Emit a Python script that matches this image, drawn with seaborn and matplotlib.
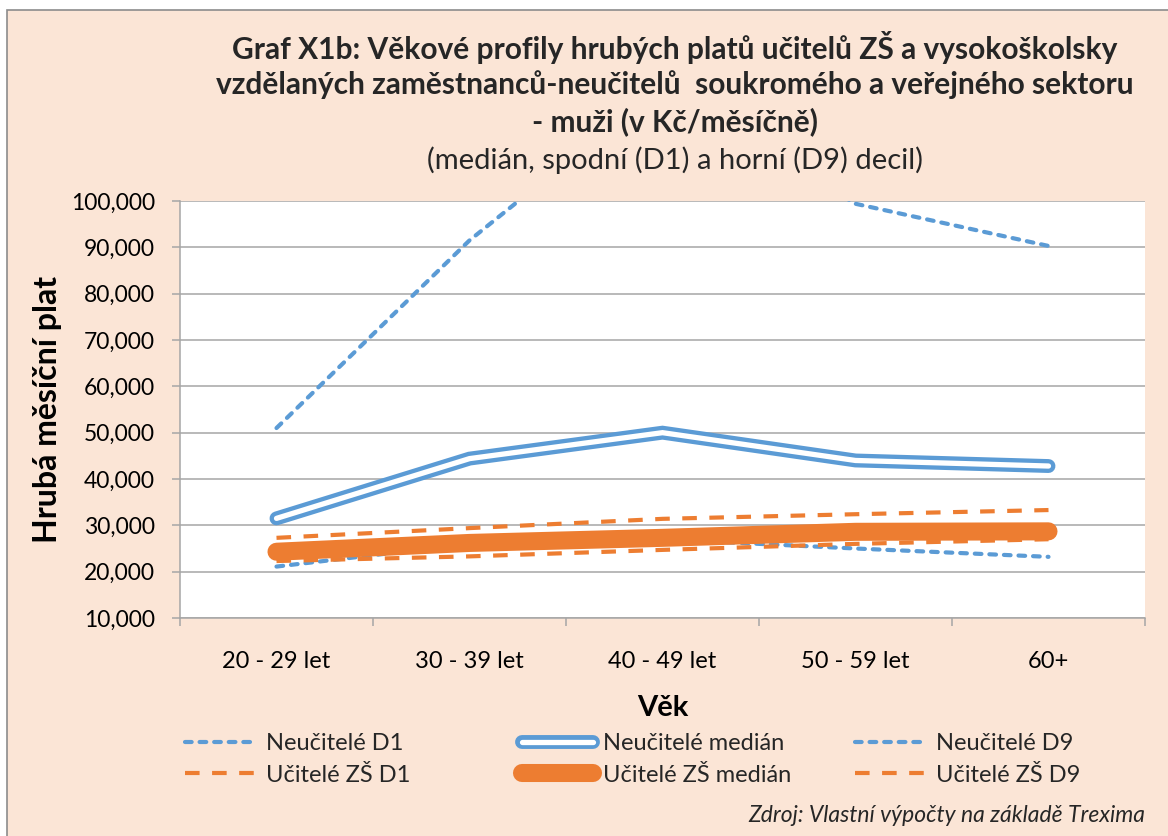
import matplotlib
matplotlib.use("Agg")
import matplotlib.pyplot as plt
import seaborn as sns
from matplotlib.lines import Line2D
from matplotlib.patches import Rectangle
from matplotlib import ticker as plticker

# -------------------------------------------------------------------
# DATA (Kč / month)
# -------------------------------------------------------------------
ages = ["20 - 29 let", "30 - 39 let", "40 - 49 let", "50 - 59 let", "60+"]

neucitele_d1 = [21100, 26000, 27000, 25000, 23200]
neucitele_median = [31500, 44400, 50000, 44000, 42800]
neucitele_d9 = [51000, 91500, 125000, 99400, 90300]

ucitele_d1 = [22300, 23300, 24700, 26000, 27000]
ucitele_median = [24300, 26200, 27300, 28600, 28700]
ucitele_d9 = [27300, 29400, 31400, 32400, 33300]

y_ticks = list(range(10000, 100001, 10000))

legend_labels = [
    "Neučitelé D1", "Neučitelé medián", "Neučitelé D9",
    "Učitelé ZŠ D1", "Učitelé ZŠ medián", "Učitelé ZŠ D9",
]

title_lines = [
    "Graf X1b: Věkové profily hrubých platů učitelů ZŠ a vysokoškolsky",
    "vzdělaných zaměstnanců-neučitelů  soukromého a veřejného sektoru",
    "- muži (v Kč/měsíčně)",
]
subtitle = "(medián, spodní (D1) a horní (D9) decil)"
source = "Zdroj: Vlastní výpočty na základě Trexima"

# -------------------------------------------------------------------
# STYLE
# -------------------------------------------------------------------
BLUE = "#5B9BD5"
ORANGE = "#ED7D31"
PEACH = "#FBE5D6"
GRID = "#A6A6A6"

sns.set_theme(style="white")
plt.rcParams["font.family"] = ["Lato", "DejaVu Sans"]

blue_dash = dict(color=BLUE, lw=3.0, linestyle=(0, (1.6, 1.9)),
                 dash_capstyle="round")
orange_dash = dict(color=ORANGE, lw=3.0, linestyle=(0, (3.5, 3.0)))
blue_outer = dict(color=BLUE, lw=10, solid_capstyle="round",
                  solid_joinstyle="miter")
blue_inner = dict(color="white", lw=3.8, solid_capstyle="round",
                  solid_joinstyle="miter")
orange_thick = dict(color=ORANGE, lw=13, solid_capstyle="round")

fig = plt.figure(figsize=(11.68, 8.36), dpi=100, facecolor="white")

# peach chart area with gray frame (frame runs off right/bottom edge)
fig.patches.append(Rectangle((7 / 1168, -0.05), 1.2, 1 - 10 / 836 + 0.05,
                             transform=fig.transFigure, facecolor=PEACH,
                             edgecolor="#8C8C8C", lw=1.2, zorder=-1))

ax = fig.add_axes([180 / 1168, 1 - 618 / 836, 965 / 1168, 417 / 836])
ax.set_facecolor("white")

# -------------------------------------------------------------------
# LINES
# -------------------------------------------------------------------
sns.lineplot(x=ages, y=neucitele_d1, ax=ax, sort=False, zorder=3, **blue_dash)
sns.lineplot(x=ages, y=neucitele_median, ax=ax, sort=False, zorder=3,
             **blue_outer)
sns.lineplot(x=ages, y=neucitele_median, ax=ax, sort=False, zorder=3,
             **blue_inner)
sns.lineplot(x=ages, y=neucitele_d9, ax=ax, sort=False, zorder=3, **blue_dash)
sns.lineplot(x=ages, y=ucitele_d1, ax=ax, sort=False, zorder=4, **orange_dash)
sns.lineplot(x=ages, y=ucitele_median, ax=ax, sort=False, zorder=4,
             **orange_thick)
sns.lineplot(x=ages, y=ucitele_d9, ax=ax, sort=False, zorder=4, **orange_dash)

# -------------------------------------------------------------------
# AXES
# -------------------------------------------------------------------
ax.set_xlim(-0.5, len(ages) - 0.5)
ax.set_ylim(min(y_ticks), max(y_ticks))
ax.yaxis.set_major_locator(plticker.FixedLocator(y_ticks))
ax.yaxis.set_major_formatter(plticker.StrMethodFormatter("{x:,.0f}"))
ax.grid(axis="y", color=GRID, lw=1.1)
ax.set_axisbelow(True)

for side in ("top", "right"):
    ax.spines[side].set_visible(False)
for side in ("left", "bottom"):
    ax.spines[side].set_color(GRID)
    ax.spines[side].set_linewidth(1.1)

ax.set_xticks(range(len(ages)))
ax.set_xticklabels(ages)
ax.set_xticks([i - 0.5 for i in range(len(ages) + 1)], minor=True)
ax.tick_params(axis="x", which="major", length=0, pad=24, labelsize=17,
               labelcolor="black")
ax.tick_params(axis="x", which="minor", length=6, width=1.1, color=GRID,
               direction="out", bottom=True)
ax.tick_params(axis="y", length=6, width=1.1, color=GRID, direction="out",
               left=True, pad=12, labelsize=16.5, labelcolor="black")

ax.set_xlabel("Věk", fontsize=21, fontweight="bold", color="black")
ax.xaxis.set_label_coords(0.5, -0.185)
ax.set_ylabel("Hrubá měsíční plat", fontsize=23, fontweight="bold",
              color="black")
ax.yaxis.set_label_coords(-0.122, 0.5)

# -------------------------------------------------------------------
# TITLES
# -------------------------------------------------------------------
for line, y_px in zip(title_lines, (48, 85, 122)):
    fig.text(675 / 1168, 1 - y_px / 836, line, ha="center", va="center",
             fontsize=21.5, fontweight="bold")
fig.text(675 / 1168, 1 - 160 / 836, subtitle, ha="center", va="center",
         fontsize=21)
fig.text(1145 / 1168, 1 - 815 / 836, source, ha="right", va="center",
         fontsize=16.5, style="italic")

# -------------------------------------------------------------------
# LEGEND (three columns, placed one by one)
# -------------------------------------------------------------------
h_blue_dash = Line2D([], [], **blue_dash)
h_orange_dash = Line2D([], [], **orange_dash)
h_blue_med = (Line2D([], [], **blue_outer), Line2D([], [], **blue_inner))
h_orange_med = Line2D([], [], **orange_thick)

columns = [
    ([h_blue_dash, h_orange_dash], [legend_labels[0], legend_labels[3]], 185),
    ([h_blue_med, h_orange_med], [legend_labels[1], legend_labels[4]], 522),
    ([h_blue_dash, h_orange_dash], [legend_labels[2], legend_labels[5]], 855),
]
for handles, labels, x0 in columns:
    leg = fig.legend(handles, labels, loc="upper left",
                     bbox_to_anchor=(x0 / 1168, 1 - 733 / 836),
                     frameon=False, fontsize=17, handlelength=3.0,
                     handletextpad=0.45, labelspacing=0.45, borderpad=0,
                     borderaxespad=0)

fig.savefig("out.png", dpi=100, facecolor="white")
